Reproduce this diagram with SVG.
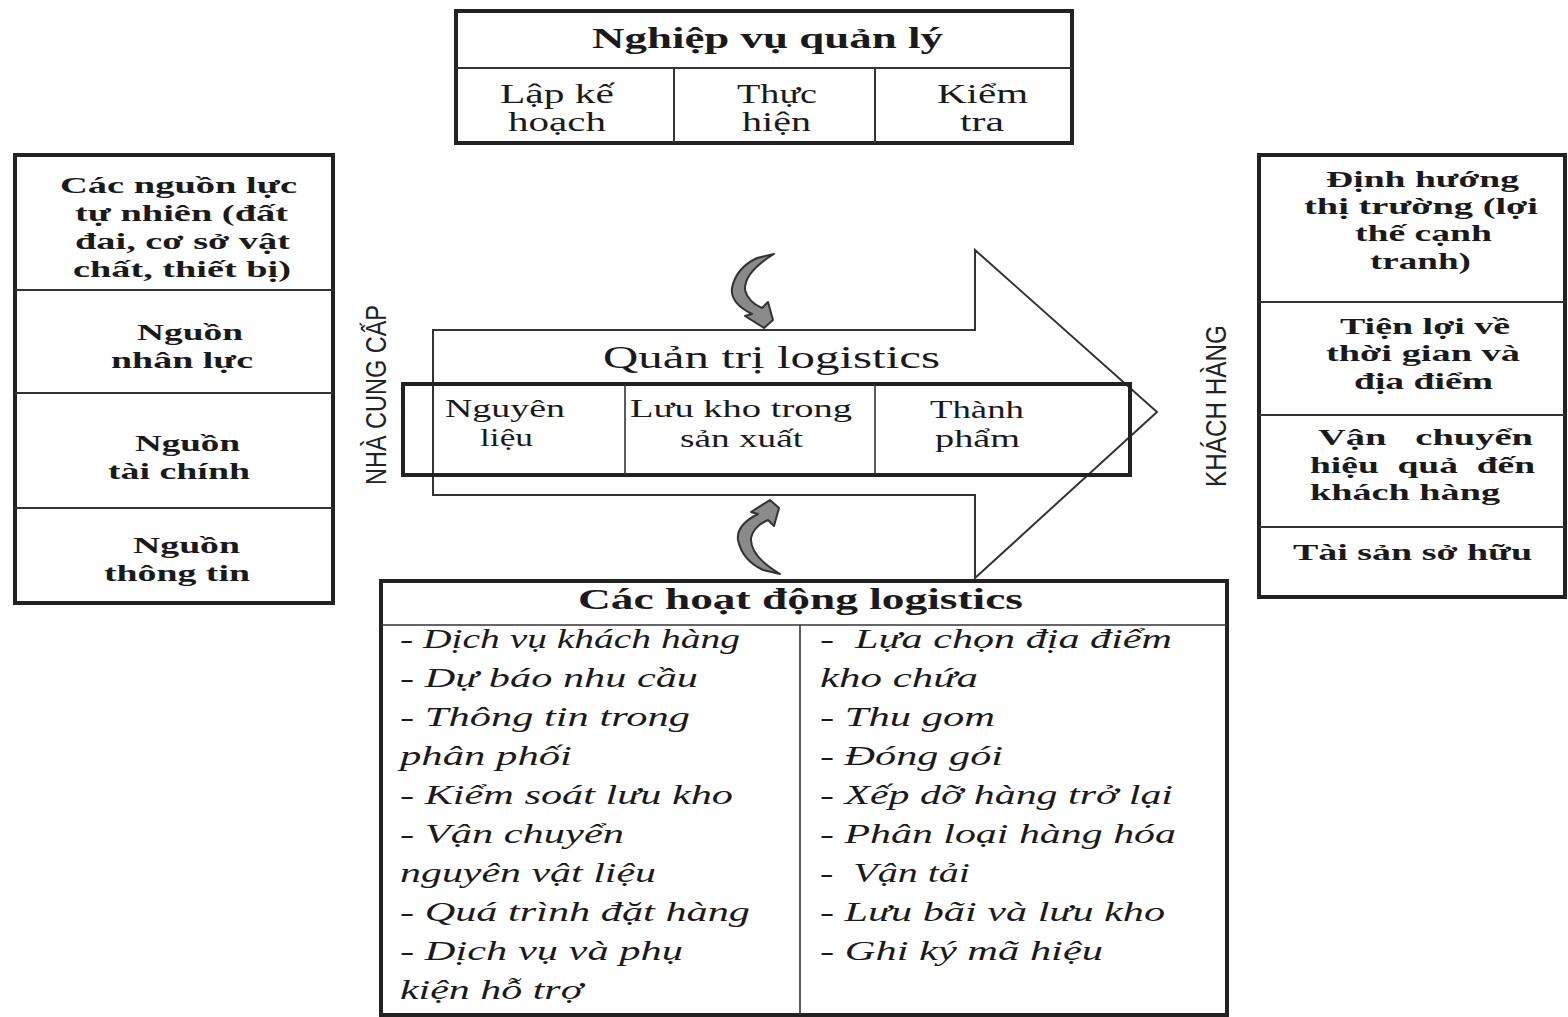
<svg xmlns="http://www.w3.org/2000/svg" width="1568" height="1017" viewBox="0 0 1568 1017">
<style>
.bg{fill:#ffffff}
.box{fill:#ffffff;stroke:#222;stroke-width:4}
.nobox{fill:none;stroke:#222;stroke-width:4}
.div{stroke:#333;stroke-width:2;fill:none}
.thin{stroke:#333;stroke-width:1.6;fill:none}
.hb{font-family:"Liberation Serif","Times New Roman",serif;font-weight:bold;fill:#1a1a1a}
.hn{font-family:"Liberation Serif","Times New Roman",serif;fill:#1a1a1a}
.hi{font-family:"Liberation Serif","Times New Roman",serif;font-style:italic;fill:#1a1a1a;font-size:27px}
.rot{font-family:"Liberation Sans",Arial,sans-serif;fill:#222;font-size:30px}
.carrow{fill:#8a8a8a;stroke:#333;stroke-width:2;stroke-linejoin:round}
</style>
<rect class="bg" x="0" y="0" width="1568" height="1017"/>

<!-- Top box -->
<g id="nghiep-vu">
<rect class="box" x="456" y="11" width="616" height="132"/>
<line class="div" x1="456" y1="68" x2="1072" y2="68"/>
<line class="div" x1="674" y1="68" x2="674" y2="143"/>
<line class="div" x1="875" y1="68" x2="875" y2="143"/>
<text class="hb" font-size="30" x="592" y="48" textLength="351" lengthAdjust="spacingAndGlyphs">Nghiệp vụ quản lý</text>
<text class="hn" font-size="28" x="500" y="103" textLength="114" lengthAdjust="spacingAndGlyphs">Lập kế</text>
<text class="hn" font-size="28" x="508" y="131" textLength="98" lengthAdjust="spacingAndGlyphs">hoạch</text>
<text class="hn" font-size="28" x="737" y="103" textLength="80" lengthAdjust="spacingAndGlyphs">Thực</text>
<text class="hn" font-size="28" x="742" y="131" textLength="69" lengthAdjust="spacingAndGlyphs">hiện</text>
<text class="hn" font-size="28" x="937" y="103" textLength="91" lengthAdjust="spacingAndGlyphs">Kiểm</text>
<text class="hn" font-size="28" x="960" y="131" textLength="44" lengthAdjust="spacingAndGlyphs">tra</text>
</g>

<!-- Left box -->
<g id="nguon-luc">
<rect class="box" x="15" y="155" width="318" height="448"/>
<line class="div" x1="15" y1="290" x2="333" y2="290"/>
<line class="div" x1="15" y1="393" x2="333" y2="393"/>
<line class="div" x1="15" y1="508" x2="333" y2="508"/>
<text class="hb" font-size="23" x="60" y="193" textLength="237" lengthAdjust="spacingAndGlyphs">Các nguồn lực</text>
<text class="hb" font-size="23" x="75" y="221" textLength="213" lengthAdjust="spacingAndGlyphs">tự nhiên (đất</text>
<text class="hb" font-size="23" x="75" y="249" textLength="215" lengthAdjust="spacingAndGlyphs">đai, cơ sở vật</text>
<text class="hb" font-size="23" x="73" y="277" textLength="218" lengthAdjust="spacingAndGlyphs">chất, thiết bị)</text>
<text class="hb" font-size="23" x="137" y="340" textLength="106" lengthAdjust="spacingAndGlyphs">Nguồn</text>
<text class="hb" font-size="23" x="111" y="368" textLength="142" lengthAdjust="spacingAndGlyphs">nhân lực</text>
<text class="hb" font-size="23" x="135" y="451" textLength="105" lengthAdjust="spacingAndGlyphs">Nguồn</text>
<text class="hb" font-size="23" x="108" y="479" textLength="142" lengthAdjust="spacingAndGlyphs">tài chính</text>
<text class="hb" font-size="23" x="133" y="553" textLength="107" lengthAdjust="spacingAndGlyphs">Nguồn</text>
<text class="hb" font-size="23" x="104" y="581" textLength="146" lengthAdjust="spacingAndGlyphs">thông tin</text>
</g>

<!-- Supplier label -->
<g id="nha-cung-cap">
<text class="rot" transform="translate(386,485) rotate(-90)" x="0" y="0" textLength="180" lengthAdjust="spacingAndGlyphs">NHÀ CUNG CẤP</text>
</g>

<!-- Big flow arrow -->
<g id="quan-tri-logistics">
<polygon points="433,330 975,330 975,250 1157,412 975,578 975,495 433,495" fill="#ffffff" stroke="#333" stroke-width="2"/>
<text class="hn" font-size="31" x="603" y="368" textLength="337" lengthAdjust="spacingAndGlyphs">Quản trị logistics</text>
<rect class="nobox" x="403" y="384" width="727" height="91"/>
<line class="thin" x1="625" y1="384" x2="625" y2="475"/>
<line class="thin" x1="875" y1="384" x2="875" y2="475"/>
<text class="hn" font-size="25" x="445" y="417" textLength="120" lengthAdjust="spacingAndGlyphs">Nguyên</text>
<text class="hn" font-size="25" x="480" y="446" textLength="53" lengthAdjust="spacingAndGlyphs">liệu</text>
<text class="hn" font-size="25" x="630" y="417" textLength="222" lengthAdjust="spacingAndGlyphs">Lưu kho trong</text>
<text class="hn" font-size="25" x="680" y="447" textLength="123" lengthAdjust="spacingAndGlyphs">sản xuất</text>
<text class="hn" font-size="25" x="930" y="418" textLength="94" lengthAdjust="spacingAndGlyphs">Thành</text>
<text class="hn" font-size="25" x="935" y="447" textLength="85" lengthAdjust="spacingAndGlyphs">phẩm</text>
</g>

<!-- Customer label -->
<g id="khach-hang">
<text class="rot" transform="translate(1226,487) rotate(-90)" x="0" y="0" textLength="162" lengthAdjust="spacingAndGlyphs">KHÁCH HÀNG</text>
</g>

<!-- Right box -->
<g id="loi-ich">
<rect class="box" x="1259" y="155" width="306" height="442"/>
<line class="div" x1="1259" y1="302" x2="1565" y2="302"/>
<line class="div" x1="1259" y1="415" x2="1565" y2="415"/>
<line class="div" x1="1259" y1="527" x2="1565" y2="527"/>
<text class="hb" font-size="23" x="1326" y="187" textLength="193" lengthAdjust="spacingAndGlyphs">Định hướng</text>
<text class="hb" font-size="23" x="1304" y="214" textLength="234" lengthAdjust="spacingAndGlyphs">thị trường (lợi</text>
<text class="hb" font-size="23" x="1355" y="241" textLength="137" lengthAdjust="spacingAndGlyphs">thế cạnh</text>
<text class="hb" font-size="23" x="1370" y="269" textLength="101" lengthAdjust="spacingAndGlyphs">tranh)</text>
<text class="hb" font-size="23" x="1340" y="334" textLength="170" lengthAdjust="spacingAndGlyphs">Tiện lợi về</text>
<text class="hb" font-size="23" x="1326" y="361" textLength="194" lengthAdjust="spacingAndGlyphs">thời gian và</text>
<text class="hb" font-size="23" x="1354" y="389" textLength="139" lengthAdjust="spacingAndGlyphs">địa điểm</text>
<text class="hb" font-size="23" x="1318" y="445" textLength="215" lengthAdjust="spacingAndGlyphs" xml:space="preserve">Vận   chuyển</text>
<text class="hb" font-size="23" x="1310" y="473" textLength="225" lengthAdjust="spacingAndGlyphs" xml:space="preserve">hiệu  quả  đến</text>
<text class="hb" font-size="23" x="1310" y="500" textLength="190" lengthAdjust="spacingAndGlyphs">khách hàng</text>
<text class="hb" font-size="23" x="1293" y="560" textLength="239" lengthAdjust="spacingAndGlyphs">Tài sản sở hữu</text>
</g>

<!-- Bottom box -->
<g id="hoat-dong">
<rect class="box" x="381" y="581" width="846" height="434"/>
<line class="thin" x1="381" y1="625" x2="1227" y2="625"/>
<line class="thin" x1="800" y1="625" x2="800" y2="1015"/>
<text class="hb" font-size="29" x="578" y="609" textLength="445" lengthAdjust="spacingAndGlyphs">Các hoạt động logistics</text>
<text class="hi" x="400" y="648" textLength="340" lengthAdjust="spacingAndGlyphs">- Dịch vụ khách hàng</text>
<text class="hi" x="400" y="687" textLength="298" lengthAdjust="spacingAndGlyphs">- Dự báo nhu cầu</text>
<text class="hi" x="400" y="726" textLength="290" lengthAdjust="spacingAndGlyphs">- Thông tin trong</text>
<text class="hi" x="400" y="765" textLength="172" lengthAdjust="spacingAndGlyphs">phân phối</text>
<text class="hi" x="400" y="804" textLength="333" lengthAdjust="spacingAndGlyphs">- Kiểm soát lưu kho</text>
<text class="hi" x="400" y="843" textLength="224" lengthAdjust="spacingAndGlyphs">- Vận chuyển</text>
<text class="hi" x="400" y="882" textLength="256" lengthAdjust="spacingAndGlyphs">nguyên vật liệu</text>
<text class="hi" x="400" y="921" textLength="350" lengthAdjust="spacingAndGlyphs">- Quá trình đặt hàng</text>
<text class="hi" x="400" y="960" textLength="283" lengthAdjust="spacingAndGlyphs">- Dịch vụ và phụ</text>
<text class="hi" x="400" y="999" textLength="183" lengthAdjust="spacingAndGlyphs">kiện hỗ trợ</text>
<text class="hi" x="820" y="648" textLength="352" lengthAdjust="spacingAndGlyphs" xml:space="preserve">-  Lựa chọn địa điểm</text>
<text class="hi" x="820" y="687" textLength="158" lengthAdjust="spacingAndGlyphs">kho chứa</text>
<text class="hi" x="820" y="726" textLength="175" lengthAdjust="spacingAndGlyphs">- Thu gom</text>
<text class="hi" x="820" y="765" textLength="183" lengthAdjust="spacingAndGlyphs">- Đóng gói</text>
<text class="hi" x="820" y="804" textLength="353" lengthAdjust="spacingAndGlyphs">- Xếp dỡ hàng trở lại</text>
<text class="hi" x="820" y="843" textLength="356" lengthAdjust="spacingAndGlyphs">- Phân loại hàng hóa</text>
<text class="hi" x="820" y="882" textLength="150" lengthAdjust="spacingAndGlyphs" xml:space="preserve">-  Vận tải</text>
<text class="hi" x="820" y="921" textLength="345" lengthAdjust="spacingAndGlyphs">- Lưu bãi và lưu kho</text>
<text class="hi" x="820" y="960" textLength="283" lengthAdjust="spacingAndGlyphs">- Ghi ký mã hiệu</text>
</g>

<!-- Curved arrows -->
<g id="connectors">
<path class="carrow" d="M 757,258 L 774,254 Q 744,272 745,290 Q 748,302 762,308 L 768,302 L 773,320 L 764,328 L 745,316 L 752,314 Q 730,303 732,288 Q 736,268 757,258 Z"/>
<path class="carrow" transform="translate(6,828) scale(1,-1)" d="M 757,258 L 774,254 Q 744,272 745,290 Q 748,302 762,308 L 768,302 L 773,320 L 764,328 L 745,316 L 752,314 Q 730,303 732,288 Q 736,268 757,258 Z"/>
</g>
</svg>
